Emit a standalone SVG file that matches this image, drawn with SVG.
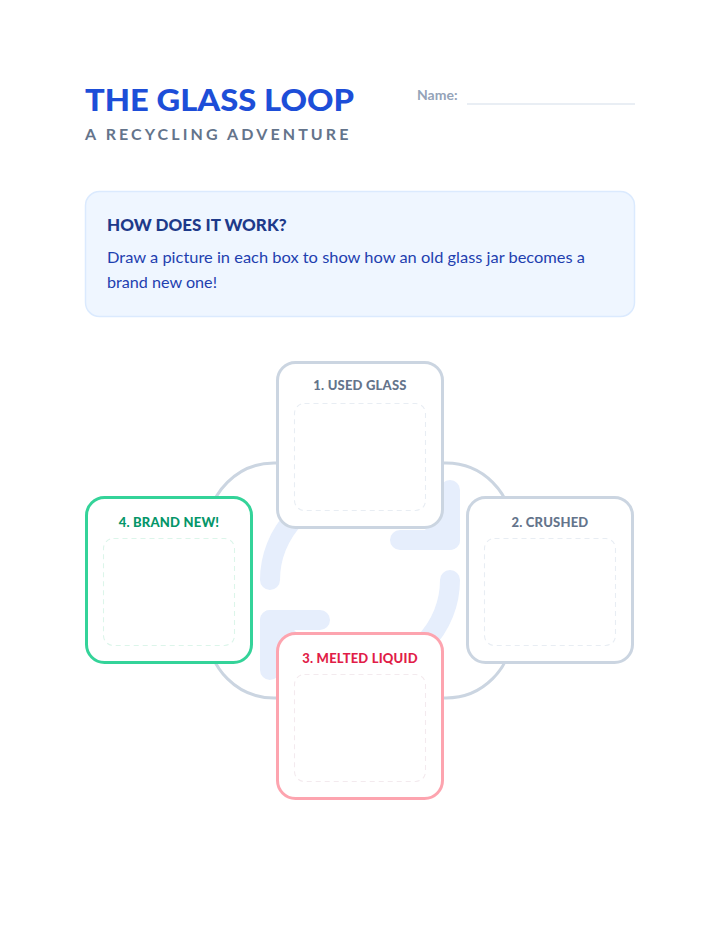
<svg xmlns="http://www.w3.org/2000/svg" width="720" height="932" viewBox="0 0 720 932">
<style>
  text { font-family: "Lato", "Noto Sans", "Liberation Sans", sans-serif; }
  .title { font-size: 31px; font-weight: 900; fill: #1d4ed8; }
  .subtitle { font-size: 16px; font-weight: 700; fill: #64748b; letter-spacing: 3.1px; }
  .namelbl { font-size: 14px; font-weight: 700; fill: #94a3b8; }
  .infohead { font-size: 17px; font-weight: 900; fill: #1e3a8a; }
  .infobody { font-size: 16px; font-weight: 400; fill: #1e40af; }
  .card { fill: #ffffff; stroke-width: 3; }
  .inner { fill: none; stroke-width: 1.1; stroke-dasharray: 5 4; }
  .ctitle { font-size: 13px; font-weight: 900; text-anchor: middle; letter-spacing: 0.2px; }
  .gray .card { stroke: #cbd5e1; }
  .gray .ctitle { fill: #64748b; }
  .gray .inner { stroke: #e8edf3; }
  .green .card { stroke: #34d399; }
  .green .ctitle { fill: #059669; }
  .green .inner { stroke: #dcf5ea; }
  .red .card { stroke: #fda4af; }
  .red .ctitle { fill: #e11d48; }
  .red .inner { stroke: #f3eaee; }
</style>
<rect width="720" height="932" fill="#ffffff"/>
<g id="header">
  <text class="title" x="85" y="111" textLength="269" lengthAdjust="spacingAndGlyphs">THE GLASS LOOP</text>
  <text class="subtitle" x="85" y="140">A RECYCLING ADVENTURE</text>
  <text class="namelbl" x="417" y="100">Name:</text>
  <line x1="467" y1="104" x2="635" y2="104" stroke="#e2e8f0" stroke-width="1.5"/>
</g>
<g id="info">
  <rect x="85.5" y="191.5" width="549" height="125" rx="14" fill="#eff6ff" stroke="#dbeafe" stroke-width="1.5"/>
  <text class="infohead" x="107" y="231">HOW DOES IT WORK?</text>
  <text class="infobody" x="107" y="263" textLength="478" lengthAdjust="spacingAndGlyphs">Draw a picture in each box to show how an old glass jar becomes a</text>
  <text class="infobody" x="107" y="288" textLength="110" lengthAdjust="spacingAndGlyphs">brand new one!</text>
</g>
<g id="connectors">
  <rect x="208" y="463" width="304" height="235" rx="66" fill="none" stroke="#cbd5e1" stroke-width="3"/>
  <g transform="translate(240 460) scale(10)" fill="none" stroke="#e6eefc" stroke-width="2" stroke-linecap="round" stroke-linejoin="round">
    <path d="M3 12a9 9 0 0 1 9-9 9.75 9.75 0 0 1 6.74 2.74L21 8"/>
    <path d="M21 3v5h-5"/>
    <path d="M21 12a9 9 0 0 1-9 9 9.75 9.75 0 0 1-6.74-2.74L3 16"/>
    <path d="M8 16H3v5"/>
  </g>
</g>
<g id="step1" class="gray">
  <rect class="card" x="277.5" y="362.5" width="165" height="165" rx="18"/>
  <text class="ctitle" x="360" y="390">1. USED GLASS</text>
  <rect class="inner" x="294.5" y="403.5" width="131" height="107" rx="10"/>
</g>
<g id="step2" class="gray">
  <rect class="card" x="467.5" y="497.5" width="165" height="165" rx="18"/>
  <text class="ctitle" x="550" y="527">2. CRUSHED</text>
  <rect class="inner" x="484.5" y="538.5" width="131" height="107" rx="10"/>
</g>
<g id="step3" class="red">
  <rect class="card" x="277.5" y="633.5" width="165" height="165" rx="18"/>
  <text class="ctitle" x="360" y="663">3. MELTED LIQUID</text>
  <rect class="inner" x="294.5" y="674.5" width="131" height="107" rx="10"/>
</g>
<g id="step4" class="green">
  <rect class="card" x="86.5" y="497.5" width="165" height="165" rx="18"/>
  <text class="ctitle" x="169" y="527">4. BRAND NEW!</text>
  <rect class="inner" x="103.5" y="538.5" width="131" height="107" rx="10"/>
</g>
</svg>
